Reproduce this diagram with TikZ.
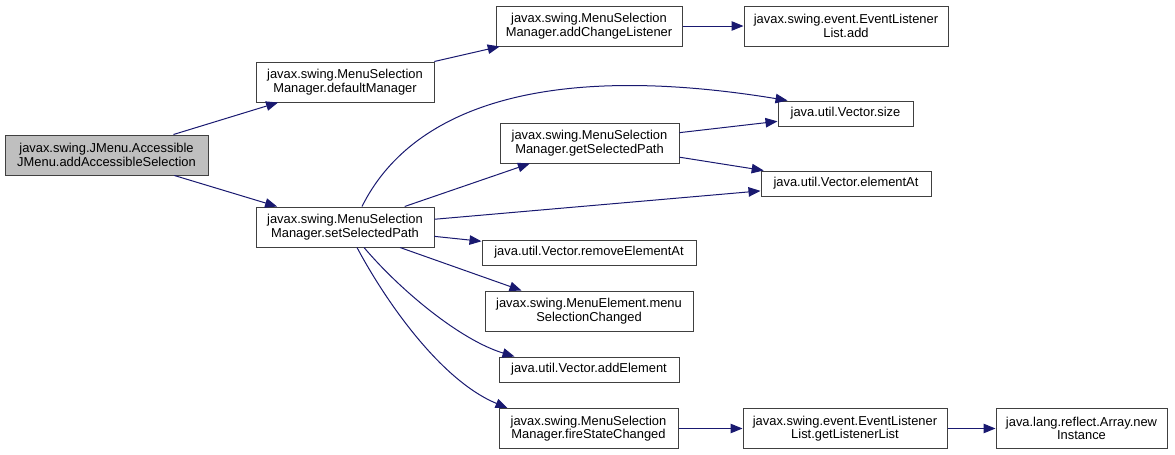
\documentclass[tikz,border=0pt]{standalone}
\usepackage{fontspec}
\setmainfont{Liberation Sans}
\usetikzlibrary{arrows.meta}
\definecolor{edgecol}{HTML}{191970}
\definecolor{bordercol}{HTML}{404040}
\definecolor{rootfill}{HTML}{BFBFBF}
\tikzset{
  fn/.style={draw=bordercol, line width=1pt, fill=white, inner sep=0pt, align=center,
    font=\fontsize{12.9}{13.5}\selectfont, text=black},
  call/.style={draw=edgecol, line width=1pt, -{Triangle[length=12pt,width=9.5pt,fill=edgecol]}},
}
\begin{document}
\begin{tikzpicture}[x=1pt,y=-1pt]
\useasboundingbox (0,0) rectangle (1175,455);
\node[fn, fill=rootfill, minimum width=203pt, minimum height=40pt] (n1) at (106.5,155) {javax.swing.JMenu.Accessible\\JMenu.addAccessibleSelection};
\node[fn, minimum width=178pt, minimum height=40pt] (n2) at (345,82) {javax.swing.MenuSelection\\Manager.defaultManager};
\node[fn, minimum width=178pt, minimum height=40pt] (n3) at (345,227) {javax.swing.MenuSelection\\Manager.setSelectedPath};
\node[fn, minimum width=186pt, minimum height=40pt] (n4) at (589,26) {javax.swing.MenuSelection\\Manager.addChangeListener};
\node[fn, minimum width=204pt, minimum height=40pt] (n5) at (846,26) {javax.swing.event.EventListener\\List.add};
\node[fn, minimum width=135pt, minimum height=25pt] (n6) at (845.5,113.5) {java.util.Vector.size};
\node[fn, minimum width=179pt, minimum height=40pt] (n7) at (589.5,143) {javax.swing.MenuSelection\\Manager.getSelectedPath};
\node[fn, minimum width=170pt, minimum height=25pt] (n8) at (846,183.5) {java.util.Vector.elementAt};
\node[fn, minimum width=214pt, minimum height=25pt] (n9) at (589,252.5) {java.util.Vector.removeElementAt};
\node[fn, minimum width=208pt, minimum height=40pt] (n10) at (589,311) {javax.swing.MenuElement.menu\\SelectionChanged};
\node[fn, minimum width=180pt, minimum height=25pt] (n11) at (589,369.5) {java.util.Vector.addElement};
\node[fn, minimum width=179pt, minimum height=40pt] (n12) at (588.5,428.5) {javax.swing.MenuSelection\\Manager.fireStateChanged};
\node[fn, minimum width=204pt, minimum height=40pt] (n13) at (845,428.5) {javax.swing.event.EventListener\\List.getListenerList};
\node[fn, minimum width=171pt, minimum height=40pt] (n14) at (1081.5,428.5) {java.lang.reflect.Array.new\\Instance};

\draw[call] (n1) -- (n2);
\draw[call] (n1) -- (n3);
\draw[call] (n2) -- (n4);
\draw[call] (n4) -- (n5);
\draw[call] ([xshift=17pt]n3.north) .. controls (410,110) and (540,60) .. ([xshift=10pt]n6.north west);
\draw[call] (n3) -- (n7);
\draw[call] (n3) -- (n8);
\draw[call] (n7) -- (n6);
\draw[call] (n7) -- (n8);
\draw[call] (n3) -- (n9);
\draw[call] ([xshift=55pt]n3.south) -- ([xshift=37pt]n10.north west);
\draw[call] ([xshift=19pt]n3.south) .. controls (400,290) and (460,340) .. ([xshift=16pt]n11.north west);
\draw[call] ([xshift=12pt]n3.south) .. controls (385,300) and (440,380) .. ([xshift=9pt]n12.north west);
\draw[call] (n12) -- (n13);
\draw[call] (n13) -- (n14);
\end{tikzpicture}
\end{document}
